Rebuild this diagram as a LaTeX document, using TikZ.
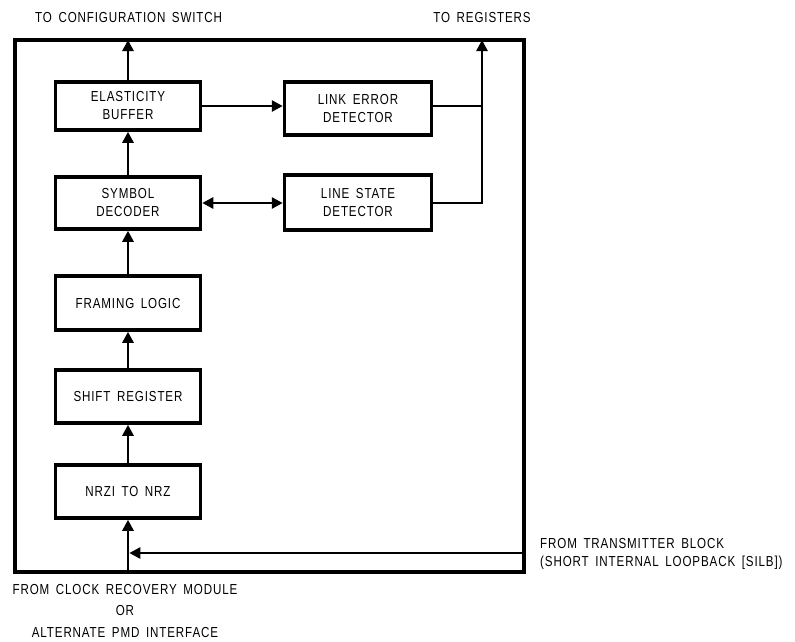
\documentclass[tikz,border=0pt]{standalone}
\usepackage{fontspec}
\setmainfont{Liberation Sans}[FakeStretch=0.8,LetterSpace=6,WordSpace=1.6]
\usetikzlibrary{arrows.meta}
\begin{document}
\begin{tikzpicture}[x=1pt,y=-1pt,
  blk/.style={draw,line width=3.5pt,minimum width=145pt,minimum height=50pt,align=center,font=\fontsize{14.5}{18}\selectfont,inner sep=0pt},
  con/.style={line width=2.6pt},
  arr/.style={con,-{Triangle[length=11pt,width=11pt]}},
  darr/.style={con,{Triangle[length=11pt,width=11pt]}-{Triangle[length=11pt,width=11pt]}},
  lbl/.style={font=\fontsize{14.5}{21.5}\selectfont,inner sep=0pt,align=center}]
\useasboundingbox (0,0) rectangle (795,641);
\node[draw,line width=3.5pt,minimum width=509pt,minimum height=532pt,inner sep=0pt] (frame) at (269.5,306) {};
\node[blk,minimum height=48pt] (eb) at (128,106) {ELASTICITY\\BUFFER};
\node[blk,minimum height=52pt] (sd) at (128,203) {SYMBOL\\DECODER};
\node[blk,minimum height=54pt] (fl) at (128,303) {FRAMING LOGIC};
\node[blk,minimum height=53pt] (sr) at (128,396.5) {SHIFT REGISTER};
\node[blk,minimum height=53pt] (nz) at (128,491.5) {NRZI TO NRZ};
\node[blk,minimum width=147pt,minimum height=53pt] (le) at (358,108.5) {LINK ERROR\\DETECTOR};
\node[blk,minimum width=147pt,minimum height=55pt] (ls) at (358,202.5) {LINE STATE\\DETECTOR};
\coordinate (topL) at (128,40);
\coordinate (topR) at (482,40);
\coordinate (botL) at (128,572);
\coordinate (rin) at (524,553);
\coordinate (rjoin) at (128,553);
\draw[arr] (eb.north) -- (topL);
\draw[arr] (sd.north) -- (eb.south);
\draw[arr] (fl.north) -- (sd.south);
\draw[arr] (sr.north) -- (fl.south);
\draw[arr] (nz.north) -- (sr.south);
\draw[arr] (botL) -- (nz.south);
\draw[arr] (rin) -- ([xshift=1.3pt]rjoin);
\draw[arr] (eb.east) -- (le.west |- eb.east);
\draw[darr] (sd.east) -- (ls.west |- sd.east);
\draw[con] (le.east |- eb.east) -- (482,106);
\draw[arr] (ls.east |- sd.east) -| (topR);
\node[lbl,anchor=west] (t1) at (35,18) {TO CONFIGURATION SWITCH};
\node[lbl] (t2) at (482,18) {TO REGISTERS};
\node[lbl,anchor=north] (t3) at (125,584) {FROM CLOCK RECOVERY MODULE\\OR\\ALTERNATE PMD INTERFACE};
\node[lbl,anchor=west,align=left,font=\fontsize{14.5}{18}\selectfont] (t4) at (540,554) {FROM TRANSMITTER BLOCK\\(SHORT INTERNAL LOOPBACK [SILB])};
\end{tikzpicture}
\end{document}
